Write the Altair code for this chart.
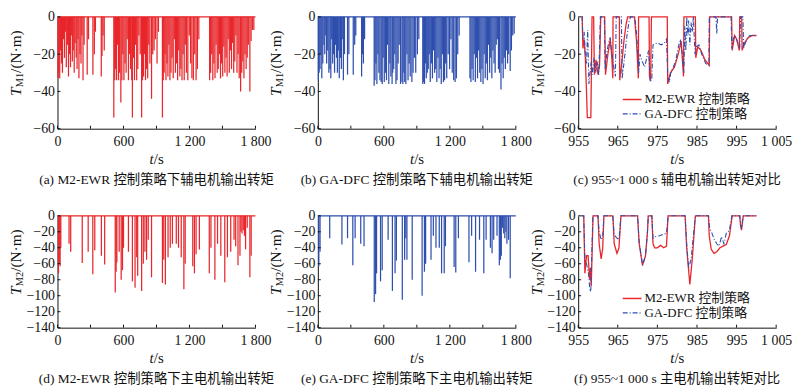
import altair as alt
import pandas as pd

FONT = "Liberation Serif, Times New Roman, Noto Sans CJK SC, serif"
RED = "#e8262b"
BLUE = "#2f4fae"
INK = "#111111"

W, H = 200, 113

# ---------------- axes data ----------------
full_x_domain = [0, 1800]
full_x_ticks = [0, 300, 600, 900, 1200, 1500, 1800]
zoom_x_domain = [955, 1005]
zoom_x_ticks = [955, 965, 975, 985, 995, 1005]
m1_y_domain = [-60, 0]
m1_y_ticks = [-60, -40, -20, 0]
m2_y_domain = [-140, 0]
m2_y_ticks = [-140, -120, -100, -80, -60, -40, -20, 0]
zero_level = [0, 0]

# ---------------- auxiliary motor (a, b): event times and minima ----------------
aux_t = [5, 12, 20, 28, 36, 45, 55, 63, 72, 80, 90, 100, 110, 118, 126, 135, 143, 152, 160, 170,
         178, 186, 195, 205, 214, 222, 232, 242,
         270, 282, 322, 335, 345,
         398, 405, 414, 425,
         512, 520, 528, 537, 546, 555, 565, 576, 585, 594, 604, 614, 624, 634, 645, 655, 664, 675,
         681, 690, 700, 710, 720, 730, 740, 752, 765, 773, 782, 790, 800, 810, 820, 830, 840, 855,
         866, 878, 890, 905, 918,
         954, 962, 970, 978, 986, 995, 1004, 1013, 1022, 1032, 1042, 1052, 1062, 1072, 1082, 1092,
         1102, 1112, 1122, 1132, 1142, 1152, 1162, 1172, 1185, 1198, 1210, 1222, 1235, 1248, 1260,
         1272, 1285,
         1383, 1392, 1402, 1412, 1422, 1432, 1442, 1452, 1462, 1472, 1482, 1492, 1502, 1512, 1522,
         1532, 1542, 1552, 1562, 1572, 1582, 1592, 1602, 1612, 1622, 1632, 1642, 1652, 1665, 1675,
         1685, 1695, 1705, 1715, 1725, 1735, 1749, 1760, 1772, 1785]
aux_m2ewr = [-33, -30, -33, -18, -25, -30, -12, -22, -8, -27, -15, -32, -20, -27, -10, -24, -18, -30, -14, -22,
             -28, -12, -33, -20, -25, -10, -34, -15,
             -31, -12, -31, -20, -8,
             -32, -21, -10, -18,
             -54, -34, -28, -34, -15, -34, -30, -46, -34, -20, -34, -25, -30, -12, -34, -20, -28, -34,
             -54, -22, -34, -15, -34, -28, -10, -20, -54, -34, -32, -20, -34, -28, -33, -15, -25, -44,
             -20, -18, -12, -25, -8,
             -54, -34, -30, -20, -34, -25, -32, -15, -34, -30, -22, -33, -12, -30, -25, -34,
             -18, -32, -28, -34, -20, -34, -15, -30, -34, -10, -25, -33, -34, -20, -34,
             -28, -12,
             -34, -30, -20, -34, -25, -33, -15, -30, -28, -20, -33, -25, -32, -16, -30,
             -22, -32, -12, -30, -18, -28, -14, -30, -24, -10, -30, -20, -33, -40, -30,
             -24, -33, -20, -28, -22, -15, -40, -13, -7, -7]
aux_gadfc = [-34, -30, -28, -20, -33, -25, -15, -20, -10, -25, -18, -30, -28, -33, -12, -25, -20, -30, -15, -22,
             -30, -18, -33, -22, -28, -12, -34, -20,
             -31, -20, -31, -15, -10,
             -32, -20, -25, -12,
             -37, -34, -25, -36, -20, -30, -34, -35, -36, -22, -35, -30, -34, -15, -36, -25, -32, -36,
             -30, -28, -20, -36, -34, -25, -15, -36, -35, -36, -30, -35, -36, -20, -34, -25, -32, -35,
             -30, -22, -30, -20, -12,
             -36, -35, -36, -25, -33, -30, -28, -20, -35, -25, -33, -18, -30, -28, -35, -22,
             -33, -28, -36, -20, -35, -34, -25, -33, -20, -28, -12, -30, -34, -35, -33,
             -20, -10,
             -33, -35, -28, -34, -20, -35, -22, -33, -18, -30, -35, -28, -36, -20, -33,
             -25, -34, -15, -30, -22, -33, -18, -25, -30, -15, -12, -28, -30, -39, -25,
             -33, -22, -28, -18, -25, -20, -29, -18, -10, -9]

# ---------------- main motor (d, e) ----------------
main_t_m2ewr = [9, 16, 24, 30, 105, 120, 225, 279, 321, 339, 399, 429, 525, 533, 540, 561, 579, 591, 600,
                645, 681, 705, 720, 729, 765, 780, 795, 810, 825, 855, 954, 966, 981, 1005, 1025, 1045,
                1080, 1100, 1125, 1149, 1161, 1230, 1245, 1260, 1290, 1380, 1395, 1431, 1455, 1485, 1521,
                1545, 1575, 1605, 1620, 1641, 1659, 1668, 1678, 1689, 1700, 1710, 1725, 1749, 1761]
main_m2ewr = [-72, -60, -63, -40, -35, -45, -59, -45, -73, -43, -50, -61, -96, -70, -58, -45, -80, -68, -40,
              -45, -82, -90, -52, -75, -94, -60, -45, -55, -30, -77, -84, -55, -86, -52, -40, -35,
              -35, -40, -52, -92, -60, -63, -72, -48, -42, -72, -40, -80, -35, -50, -83,
              -52, -45, -30, -38, -62, -50, -20, -22, -18, -25, -42, -15, -77, -50]
main_t_gadfc = [9, 20, 108, 219, 270, 318, 339, 390, 420, 513, 525, 534, 570, 585, 639, 678, 702, 714,
                768, 789, 800, 810, 858, 948, 969, 980, 1029, 1050, 1074, 1104, 1125, 1149, 1160, 1239,
                1254, 1278, 1374, 1398, 1434, 1470, 1509, 1530, 1569, 1584, 1599, 1629, 1650, 1660, 1668,
                1678, 1690, 1700, 1710, 1719, 1734, 1749]
main_gadfc = [-63, -45, -28, -36, -28, -62, -28, -35, -38, -108, -98, -72, -82, -68, -30, -94, -72, -56,
              -105, -55, -28, -55, -80, -100, -70, -60, -55, -25, -40, -40, -72, -72, -38, -64,
              -71, -28, -58, -25, -70, -30, -72, -30, -40, -47, -30, -25, -62, -55, -50,
              -15, -22, -28, -20, -35, -30, -78]

# ---------------- 955~1000 s comparison (c): auxiliary motor ----------------
c_t_m2ewr = [955.8, 956.0, 956.2, 956.5, 956.8, 957.1, 957.3, 958.2, 958.5, 958.9, 959.1, 959.5, 960.0,
             960.4, 960.7, 961.7, 961.9, 962.5, 963.1, 963.5, 963.75, 963.8, 965.4, 965.5, 966.0, 966.6,
             967.1, 967.5, 969.2, 969.7, 970.2, 970.25, 972.9, 973.0, 973.3, 973.5, 977.5, 977.6, 978.3,
             979.3, 980.0, 980.6, 981.0, 981.6, 981.7, 984.6, 984.7, 985.2, 986.0, 987.0, 988.1, 988.2,
             993.75, 993.9, 994.5, 995.0, 995.7, 995.8, 996.3, 996.4, 997.0, 998.0, 999.0, 1000.0]
c_m2ewr = [0, 0, -17, -12, -22, -40, -54, -54, 0, 0, -31, -23, -31,
           -26, 0, 0, -31, -20, -12, -22, -33, 0, 0, -34, -25, -12,
           -4, 0, 0, -12, -33, 0, 0, -32, -34, 0, 0, -36, -30,
           -27, -22, -17, -13, -32, 0, 0, -22, -16, -18, -23, -26, 0,
           0, -18, -10, -12, -18, 0, 0, -18, -14, -11, -10, -10]
c_t_gadfc = [955.8, 956.0, 956.2, 956.5, 956.8, 957.1, 957.4, 957.7, 958.0, 958.3, 958.6, 959.0, 959.4,
             959.8, 960.2, 960.6, 961.6, 961.8, 962.3, 962.8, 963.1, 963.5, 964.0, 964.4, 964.6, 965.9,
             966.1, 966.6, 967.2, 967.8, 968.2, 969.3, 969.8, 970.3, 970.6, 971.2, 971.8, 972.3, 972.8,
             973.2, 973.6, 973.9, 975.0, 976.0, 976.8, 977.3, 977.6, 978.0, 978.4, 979.0, 979.6, 980.2,
             980.8, 981.3, 981.7, 981.9, 982.2, 982.4, 982.7, 982.9, 983.2, 983.5, 983.8, 984.1, 984.5,
             984.9, 985.5, 986.2, 987.2, 988.0, 988.1, 989.8, 990.0, 990.2, 993.6, 993.8, 994.2, 994.6,
             995.2, 995.8, 996.0, 996.6, 996.8, 997.2, 997.8, 998.4, 999.2, 1000.0]
c_gadfc = [0, 0, -12, -8, -20, -25, -7, -36, -30, -24, -31, -22, -30,
           -24, -31, 0, 0, -28, -18, -13, -11, -20, -27, -32, 0, 0,
           -33, -24, -12, -3, 0, 0, -10, -30, -20, -24, -27, -22, -18,
           -35, -33, -15, -14, -15, -14, -12, -30, -35, -30, -27, -24, -17,
           -12, -20, -30, -5, -18, 0, -10, -2, -15, -3, -8, 0, -20,
           -16, -15, -20, -25, -26, 0, 0, -9, 0, 0, -17, -12, -10,
           -13, -17, 0, 0, -17, -14, -11, -10, -10, -10]

# ---------------- 955~1000 s comparison (f): main motor ----------------
f_t_m2ewr = [955.8, 956.4, 956.7, 957.1, 957.5, 957.9, 958.1, 958.3, 958.75, 960.0, 960.3, 960.8, 961.2,
             961.5, 963.75, 964.1, 964.8, 965.3, 965.8, 970.0, 970.4, 971.25, 972.0, 972.5, 972.7, 973.6,
             973.9, 974.3, 975.0, 975.8, 976.6, 977.3, 977.7, 982.0, 982.4, 983.2, 983.8, 984.3, 984.6,
             987.9, 988.1, 988.6, 989.3, 990.0, 990.8, 991.6, 992.4, 993.2, 993.9, 995.8, 996.0, 996.25,
             996.5, 996.7, 1000.0]
f_m2ewr = [0, 0, -72, -50, -50, -80, -65, -88, 0, 0, -35, -54, -40,
           0, 0, -35, -47, -40, 0, 0, -35, -62, -50, -20, 0, 0,
           -35, -40, -40, -37, -40, -38, 0, 0, -40, -86, -55, -20, 0,
           0, -25, -42, -47, -45, -40, -38, -36, -25, 0, 0, -12, -18,
           -8, 0, 0]
f_t_gadfc = [955.8, 956.4, 956.7, 957.1, 957.6, 958.0, 958.2, 958.7, 960.0, 960.3, 960.8, 961.2, 961.5,
             963.75, 964.1, 964.8, 965.3, 965.8, 970.0, 970.4, 971.25, 972.0, 972.5, 972.7, 973.6, 973.9,
             974.5, 975.5, 976.5, 977.3, 977.7, 982.0, 982.4, 982.9, 983.5, 984.2, 984.6, 987.9, 988.2,
             988.8, 989.4, 990.0, 990.6, 991.2, 991.8, 992.4, 993.2, 993.8, 995.8, 996.0, 996.25, 996.5,
             996.7, 1000.0]
f_gadfc = [0, 0, -55, -60, -72, -95, -92, 0, 0, -20, -30, -25, 0,
           0, -24, -28, -30, 0, 0, -32, -62, -50, -20, 0, 0, -28,
           -26, -25, -23, -22, 0, 0, -35, -65, -55, -20, 0, 0, -15,
           -22, -30, -35, -38, -26, -35, -22, -18, 0, 0, -10, -16, -6,
           0, 0]

legend_names = ["M2-EWR 控制策略", "GA-DFC 控制策略"]
captions = ["(a) M2-EWR 控制策略下辅电机输出转矩", "(b) GA-DFC 控制策略下辅电机输出转矩",
            "(c) 955~1 000 s 辅电机输出转矩对比", "(d) M2-EWR 控制策略下主电机输出转矩",
            "(e) GA-DFC 控制策略下主电机输出转矩", "(f) 955~1 000 s 主电机输出转矩对比"]

FULL_LABELS = ("datum.value == 1200 ? '1 200' : datum.value == 1800 ? '1 800' : "
               "(datum.value == 0 || datum.value == 600) ? toString(datum.value) : ''")
ZOOM_LABELS = "datum.value == 1005 ? '1 005' : toString(datum.value)"


def encodings(xdom, xticks, xlabels, ydom, yticks):
    xs = alt.Scale(domain=xdom, nice=False, zero=False)
    ys = alt.Scale(domain=ydom, nice=False, zero=False)
    xa = alt.Axis(values=xticks, labelExpr=xlabels, title=None, labelPadding=6)
    ya = alt.Axis(values=yticks, title=None, labelPadding=3)
    return alt.X("t:Q", scale=xs, axis=xa), alt.Y("v:Q", scale=ys, axis=ya)


def text(s, x, y, size=13, style="normal", align="center", angle=0):
    return alt.Chart(pd.DataFrame({"s": [s]})).mark_text(
        font=FONT, fontSize=size, fontStyle=style, align=align, baseline="middle",
        angle=angle, color=INK
    ).encode(text="s:N", x=alt.value(x), y=alt.value(y))


def decorations(X, Y, xticks, yticks, sub, caption):
    layers = [
        alt.Chart(pd.DataFrame({"t": xticks})).mark_rule(color=INK, strokeWidth=1).encode(
            x=X, y=alt.value(H), y2=alt.value(H - 3)),
        alt.Chart(pd.DataFrame({"v": yticks})).mark_rule(color=INK, strokeWidth=1).encode(
            y=Y, x=alt.value(0), x2=alt.value(3)),
        # y title: T_sub/(N·m), rotated
        text("T", -42, 80, size=15.5, style="italic", align="left", angle=270),
        text(sub, -38, 71.2, size=10.5, align="left", angle=270),
        text("/(N·m)", -42, 56.6, size=15.5, align="left", angle=270),
        # x title: t/s
        text("t", 93, H + 31, size=15, style="italic", align="left"),
        text("/s", 97.3, H + 31, size=15, align="left"),
        text(caption, W / 2, H + 52, size=13.5),
    ]
    return layers


def spike_panel(times, vals, color, ydom, yticks, sub, caption):
    X, Y = encodings(full_x_domain, full_x_ticks, FULL_LABELS, ydom, yticks)
    spikes = alt.Chart(pd.DataFrame({"t": times, "v": vals})).mark_rule(
        color=color, strokeWidth=1.25).encode(x=X, y=Y, y2=alt.datum(0))
    base = alt.Chart(pd.DataFrame({"t": full_x_domain, "v": zero_level})).mark_line(
        color=color, strokeWidth=1.2).encode(x=X, y=Y)
    return alt.layer(spikes, base, *decorations(X, Y, full_x_ticks, yticks, sub, caption)).properties(
        width=W, height=H)


def compare_panel(tr, vr, tb, vb, ydom, yticks, sub, caption):
    X, Y = encodings(zoom_x_domain, zoom_x_ticks, ZOOM_LABELS, ydom, yticks)
    red = alt.Chart(pd.DataFrame({"t": tr, "v": vr})).mark_line(
        color=RED, strokeWidth=1.3).encode(x=X, y=Y)
    blue = alt.Chart(pd.DataFrame({"t": tb, "v": vb})).mark_line(
        color=BLUE, strokeWidth=1.1, strokeDash=[5, 2, 1, 2]).encode(x=X, y=Y)
    one = pd.DataFrame({"k": [0]})
    leg = [
        alt.Chart(one).mark_rule(color=RED, strokeWidth=1.5).encode(
            x=alt.value(45), x2=alt.value(64), y=alt.value(83.5)),
        alt.Chart(one).mark_rule(color=BLUE, strokeWidth=1.2, strokeDash=[5, 2, 1, 2]).encode(
            x=alt.value(45), x2=alt.value(64), y=alt.value(98)),
        text(legend_names[0], 67, 83.5, size=13, align="left"),
        text(legend_names[1], 67, 98, size=13, align="left"),
    ]
    return alt.layer(red, blue, *leg, *decorations(X, Y, zoom_x_ticks, yticks, sub, caption)).properties(
        width=W, height=H)


pa = spike_panel(aux_t, aux_m2ewr, RED, m1_y_domain, m1_y_ticks, "M1", captions[0])
pb = spike_panel(aux_t, aux_gadfc, BLUE, m1_y_domain, m1_y_ticks, "M1", captions[1])
pc = compare_panel(c_t_m2ewr, c_m2ewr, c_t_gadfc, c_gadfc, m1_y_domain, m1_y_ticks, "M1", captions[2])
pd_ = spike_panel(main_t_m2ewr, main_m2ewr, RED, m2_y_domain, m2_y_ticks, "M2", captions[3])
pe = spike_panel(main_t_gadfc, main_gadfc, BLUE, m2_y_domain, m2_y_ticks, "M2", captions[4])
pf = compare_panel(f_t_m2ewr, f_m2ewr, f_t_gadfc, f_gadfc, m2_y_domain, m2_y_ticks, "M2", captions[5])

chart = alt.concat(
    pa, pb, pc, pd_, pe, pf, columns=3, spacing={"row": 88, "column": 63}, bounds="flush"
).properties(
    padding={"left": 0, "top": 0, "right": 0, "bottom": 0}
).configure_view(
    stroke=None
).configure_axis(
    grid=False, ticks=False, tickSize=0, labelFlush=False, labelOverlap=False,
    labelFont=FONT, labelFontSize=14, labelColor=INK, domainColor=INK, domainWidth=1
)

chart.save("out.html", embed_options={"renderer": "svg", "actions": False})
